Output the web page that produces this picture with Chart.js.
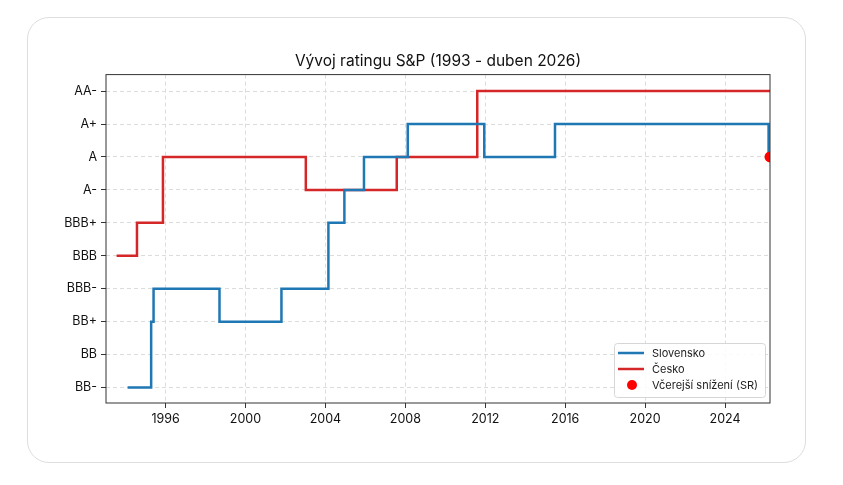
<!DOCTYPE html>
<html>
<head>
<meta charset="utf-8">
<script src="https://cdn.jsdelivr.net/npm/chart.js@4.4.1/dist/chart.umd.min.js"></script>
<style>
  html, body { margin: 0; padding: 0; background: #fff; }
  #card { position: absolute; left: 27px; top: 17px; width: 779px; height: 446px;
          border: 1px solid #dedede; border-radius: 22px; box-sizing: border-box; }
  #wrap { position: absolute; left: 0; top: 0; width: 843px; height: 485px; }
</style>
</head>
<body>
<div id="card"></div>
<div id="wrap"><canvas id="chart" width="843" height="485"></canvas></div>
<script>
const ratingLabels = ['BB-', 'BB', 'BB+', 'BBB-', 'BBB', 'BBB+', 'A-', 'A', 'A+', 'AA-'];
const yearTicks = [1996, 2000, 2004, 2008, 2012, 2016, 2020, 2024];

// Slovensko - data zmen ratingu (rok jako desetinne cislo)
const skDates = [1994.1, 1995.28, 1995.4, 1998.7, 2001.8, 2004.15, 2004.95, 2005.93, 2008.12, 2011.95, 2015.49, 2026.18, 2026.25];
const skRatings = ['BB-', 'BB+', 'BBB-', 'BB+', 'BBB-', 'BBB+', 'A-', 'A', 'A+', 'A', 'A+', 'A', 'A'];

// Cesko
const czDates = [1993.55, 1994.57, 1995.87, 2003.02, 2007.57, 2011.6, 2026.25];
const czRatings = ['BBB', 'BBB+', 'A', 'A-', 'A', 'AA-', 'AA-'];

// vcerejsi snizeni
const cutDates = [2026.25];
const cutRatings = ['A'];

const FONT = 'Inter, "Open Sans", sans-serif';

function toPoints(dates, ratings) {
  return dates.map((d, i) => ({ x: d, y: ratingLabels.indexOf(ratings[i]) }));
}

const framePlugin = {
  id: 'frame',
  afterDatasetsDraw(chart) {
    const { ctx, chartArea: a } = chart;
    ctx.save();
    ctx.strokeStyle = '#333';
    ctx.lineWidth = 1;
    ctx.strokeRect(a.left, a.top, a.right - a.left, a.bottom - a.top);
    ctx.restore();
  }
};

const boxLegend = {
  id: 'boxLegend',
  afterDraw(chart) {
    const { ctx, chartArea: a } = chart;
    const w = 151, h = 54;
    const x0 = a.right - 5 - w, y0 = a.bottom - 6 - h;
    ctx.save();
    ctx.fillStyle = 'rgba(255,255,255,0.85)';
    ctx.strokeStyle = '#d6d6d6';
    ctx.lineWidth = 1;
    ctx.beginPath();
    ctx.roundRect(x0 + 0.5, y0 + 0.5, w, h, 3);
    ctx.fill();
    ctx.stroke();
    ctx.font = '11px ' + FONT;
    ctx.textBaseline = 'middle';
    chart.data.datasets.forEach((ds, i) => {
      const y = y0 + 10 + i * 16;
      if (ds.showLine === false) {
        ctx.fillStyle = ds.pointBackgroundColor;
        ctx.beginPath();
        ctx.arc(x0 + 18, y, 5, 0, Math.PI * 2);
        ctx.fill();
      } else {
        ctx.strokeStyle = ds.borderColor;
        ctx.lineWidth = 2.5;
        ctx.beginPath();
        ctx.moveTo(x0 + 4, y);
        ctx.lineTo(x0 + 30, y);
        ctx.stroke();
      }
      ctx.fillStyle = '#222';
      ctx.fillText(ds.label, x0 + 38, y + 0.5);
    });
    ctx.restore();
  }
};

new Chart(document.getElementById('chart'), {
  type: 'line',
  data: {
    datasets: [
      { label: 'Slovensko', data: toPoints(skDates, skRatings), borderColor: '#1f77b4',
        borderWidth: 2.5, stepped: 'before', pointRadius: 0, fill: false, order: 2 },
      { label: 'Česko', data: toPoints(czDates, czRatings), borderColor: '#d62728',
        borderWidth: 2.5, stepped: 'before', pointRadius: 0, fill: false, order: 3 },
      { label: 'Včerejší snížení (SR)', data: toPoints(cutDates, cutRatings), showLine: false,
        pointRadius: 5.5, pointBackgroundColor: '#ff0000', pointBorderWidth: 0,
        borderColor: '#ff0000', clip: 0, order: 1 }
    ]
  },
  options: {
    responsive: false,
    animation: false,
    layout: { padding: { left: 46, right: 73, top: 40, bottom: 52 } },
    plugins: {
      legend: { display: false },
      tooltip: { enabled: false },
      title: { display: true, fullSize: false, text: 'Vývoj ratingu S&P (1993 - duben 2026)', color: '#111',
        font: { family: FONT, size: 15.5, weight: 'normal' }, padding: { top: 12, bottom: 4 } }
    },
    scales: {
      x: {
        type: 'linear', min: 1993.02, max: 2026.25,
        afterBuildTicks: s => { s.ticks = yearTicks.map(v => ({ value: v })); },
        afterFit: s => { s.height = 30; },
        grid: { color: '#dcdcdc', tickColor: '#333', tickLength: 5, tickBorderDash: [] },
        border: { display: false, dash: [4, 3] },
        ticks: { color: '#111', padding: 4, maxRotation: 0, font: { family: FONT, size: 12.5 },
          callback: v => String(v) }
      },
      y: {
        type: 'linear', min: -0.47, max: 9.5,
        afterBuildTicks: s => { s.ticks = ratingLabels.map((_, i) => ({ value: i })); },
        afterFit: s => { s.width = 60; },
        grid: { color: '#dcdcdc', tickColor: '#333', tickLength: 5, tickBorderDash: [] },
        border: { display: false, dash: [4, 3] },
        ticks: { color: '#111', padding: 4, font: { family: FONT, size: 12.5 },
          callback: v => ratingLabels[v] }
      }
    }
  },
  plugins: [framePlugin, boxLegend]
});
</script>
</body>
</html>
